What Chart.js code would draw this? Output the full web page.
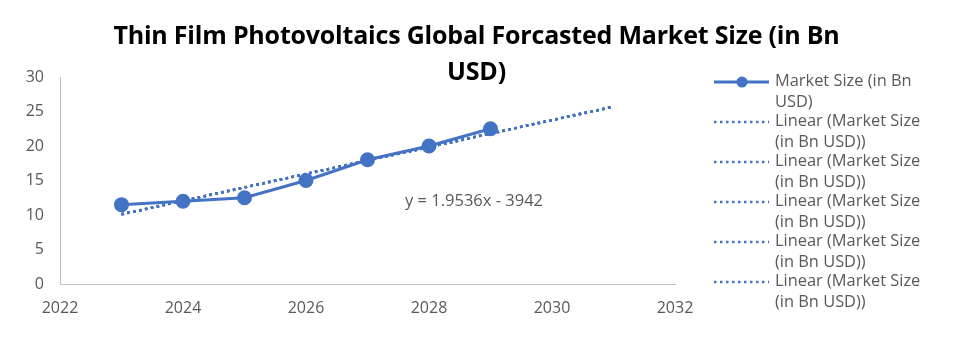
<!DOCTYPE html>
<html>
<head>
<meta charset="utf-8">
<script src="https://cdn.jsdelivr.net/npm/chart.js@4/dist/chart.umd.min.js"></script>
<style>
  html, body { margin: 0; padding: 0; background: #fff; }
  #wrap { position: relative; width: 953px; height: 344px; overflow: hidden; font-family: "Open Sans", Lato, sans-serif; }
  #chart { position: absolute; left: 0; top: 0; }
  #title { position: absolute; left: 0px; width: 953px; top: 16px; text-align: center; font-weight: bold; font-size: 25px; line-height: 36px; color: #000; letter-spacing: -0.2px; }
  #eq { position: absolute; left: 405px; top: 188px; font-size: 16.5px; color: #595959; white-space: nowrap; }
  #legend { position: absolute; left: 712px; top: 70px; width: 241px; }
  .item { display: flex; align-items: flex-start; height: 40px; }
  .item svg { flex: none; margin-top: 4px; }
  .item span { font-size: 16.4px; line-height: 20.5px; color: #595959; margin-left: 5px; width: 158px; }
</style>
</head>
<body>
<div id="wrap">
  <canvas id="chart" width="953" height="344"></canvas>
  <div id="title">Thin Film Photovoltaics Global Forcasted Market Size (in Bn<br>USD)</div>
  <div id="eq">y = 1.9536x - 3942</div>
  <div id="legend"></div>
</div>
<script>
const years = [2023, 2024, 2025, 2026, 2027, 2028, 2029];
const marketSize = [11.5, 12, 12.5, 15, 18, 20, 22.5];
const trendYears = [2023, 2031];
const trendValues = [10.1, 25.7];
const seriesName = "Market Size (in Bn USD)";
const trendName = "Linear (Market Size (in Bn USD))";
const trendCount = 5;
const xTicks = [2022, 2024, 2026, 2028, 2030, 2032];
const yTicks = [0, 5, 10, 15, 20, 25, 30];

const blue = "#4472C4";
const grey = "#595959";

const toPoints = (xs, ys) => xs.map((x, i) => ({ x, y: ys[i] }));

const datasets = [{
  label: seriesName,
  data: toPoints(years, marketSize),
  borderColor: blue,
  backgroundColor: blue,
  borderWidth: 3,
  pointRadius: 6,
  pointHoverRadius: 6,
  showLine: true,
  order: 2
}];
for (let i = 0; i < trendCount; i++) {
  datasets.push({
    label: trendName,
    data: toPoints(trendYears, trendValues),
    borderColor: blue,
    borderWidth: 2.5,
    borderDash: [2.5, 3.5],
    pointRadius: 0,
    showLine: true,
    order: 1
  });
}

new Chart(document.getElementById("chart"), {
  type: "scatter",
  data: { datasets },
  options: {
    responsive: false,
    animation: false,
    layout: { padding: { left: 0, top: 77, right: 278, bottom: 0 } },
    plugins: { legend: { display: false }, title: { display: false }, tooltip: { enabled: false } },
    scales: {
      x: {
        type: "linear", min: 2022, max: 2032,
        afterBuildTicks: (s) => { s.ticks = xTicks.map((v) => ({ value: v })); },
        afterFit: (s) => { s.height = 60; },
        grid: { display: false, drawTicks: false },
        border: { display: true, color: "#BFBFBF", width: 1 },
        ticks: { color: grey, font: { family: "Open Sans", size: 16 }, padding: 15, maxRotation: 0, callback: (v) => String(v) }
      },
      y: {
        min: 0, max: 30,
        afterBuildTicks: (s) => { s.ticks = yTicks.map((v) => ({ value: v })); },
        afterFit: (s) => { s.width = 60; },
        grid: { display: false, drawTicks: false },
        border: { display: true, color: "#BFBFBF", width: 1 },
        ticks: { color: grey, font: { family: "Open Sans", size: 16 }, padding: 16 }
      }
    }
  }
});

const solidIcon = `<svg width="58" height="16"><line x1="2" y1="8" x2="57" y2="8" stroke="${blue}" stroke-width="3"/><circle cx="30" cy="8" r="5.5" fill="${blue}"/></svg>`;
const dotIcon = `<svg width="58" height="16"><line x1="2" y1="8" x2="57" y2="8" stroke="${blue}" stroke-width="2.5" stroke-dasharray="2.5 3.5"/></svg>`;
document.getElementById("legend").innerHTML = datasets.map((d, i) => `
  <div class="item">${i === 0 ? solidIcon : dotIcon}<span>${d.label}</span></div>
`).join("");
</script>
</body>
</html>
